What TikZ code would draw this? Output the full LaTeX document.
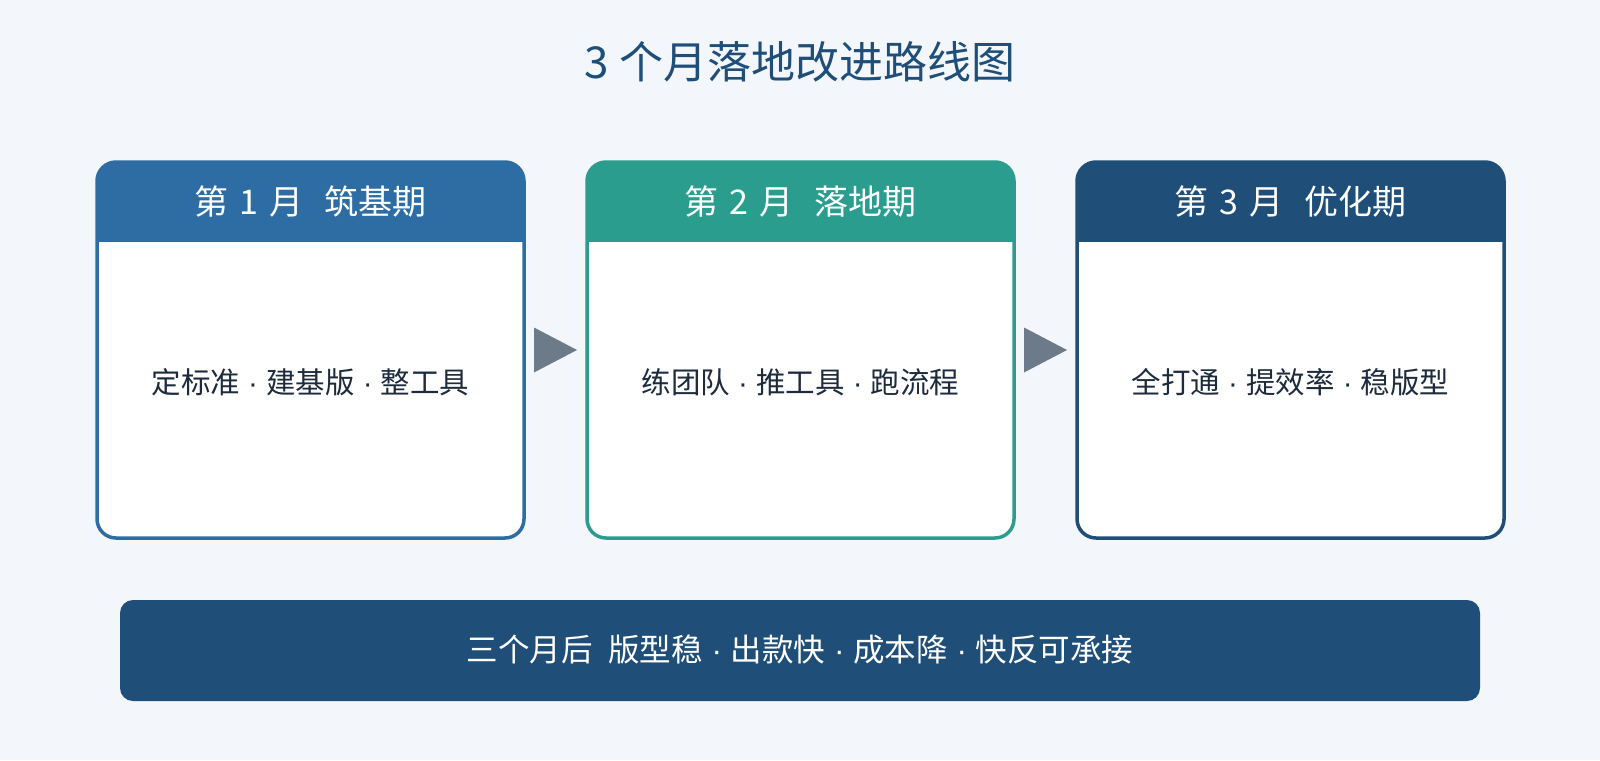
\documentclass[tikz,border=0pt]{standalone}
\usepackage{fontspec}
\setmainfont{Noto Sans CJK SC}
\newfontfamily\latf{Liberation Sans}
\usetikzlibrary{calc}
\definecolor{bgc}{HTML}{F3F7FC}
\definecolor{c1}{HTML}{2E6DA4}
\definecolor{c2}{HTML}{2A9D8F}
\definecolor{c3}{HTML}{1F4E79}
\definecolor{arrc}{HTML}{6C7A89}
\definecolor{txtc}{HTML}{1E2B3C}
\newcommand\sepd{{\latf{} · }}
\newcommand\hd[2]{第\hspace{0.33em}#1\hspace{0.33em}月\hspace{0.6em}#2}
\tikzset{
  phase/.style={draw=#1, line width=3.5pt, fill=white, rounded corners=19pt,
    minimum width=427pt, minimum height=376pt, inner sep=0pt,
    path picture={\fill[#1, sharp corners] (path picture bounding box.north west) rectangle ([yshift=-80pt]path picture bounding box.north east);}},
  headtxt/.style={text=white, font=\fontsize{34}{40}\selectfont, inner sep=0pt},
  bodytxt/.style={text=txtc, font=\fontsize{29.5}{35}\selectfont, inner sep=0pt},
  tri/.style={fill=arrc}
}
\begin{document}
\begin{tikzpicture}[x=1pt,y=-1pt]
\fill[bgc] (0,0) rectangle (1600,760);
\useasboundingbox (0,0) rectangle (1600,760);
\node[text=c3, font=\fontsize{44}{52}\selectfont, inner sep=0pt] (title) at (800,62) {3 个月落地改进路线图};
\node[phase=c1] (b1) at (310.5,350) {};
\node[phase=c2] (b2) at (800.5,350) {};
\node[phase=c3] (b3) at (1290.5,350) {};
\node[headtxt] (h1) at (310.5,202) {\hd{1}{筑基期}};
\node[headtxt] (h2) at (800.5,202) {\hd{2}{落地期}};
\node[headtxt] (h3) at (1290.5,202) {\hd{3}{优化期}};
\node[bodytxt] (t1) at (310.5,382) {定标准\sepd 建基版\sepd 整工具};
\node[bodytxt] (t2) at (800.5,382) {练团队\sepd 推工具\sepd 跑流程};
\node[bodytxt] (t3) at (1290.5,382) {全打通\sepd 提效率\sepd 稳版型};
\coordinate (m1) at ($(b1.east)!0.5!(b2.west)$);
\coordinate (m2) at ($(b2.east)!0.5!(b3.west)$);
\fill[tri] ([xshift=-21.5pt,yshift=22.5pt]m1) -- ([xshift=21.5pt]m1) -- ([xshift=-21.5pt,yshift=-22.5pt]m1) -- cycle;
\fill[tri] ([xshift=-21.5pt,yshift=22.5pt]m2) -- ([xshift=21.5pt]m2) -- ([xshift=-21.5pt,yshift=-22.5pt]m2) -- cycle;
\node[fill=c3, rounded corners=13pt, minimum width=1360pt, minimum height=101pt, inner sep=0pt] (bar) at (800,650.5) {};
\node[text=white, font=\fontsize{31.5}{37}\selectfont, inner sep=0pt] (bt) at (800,650) {三个月后\hspace{0.5em}版型稳\sepd 出款快\sepd 成本降\sepd 快反可承接};
\end{tikzpicture}
\end{document}
